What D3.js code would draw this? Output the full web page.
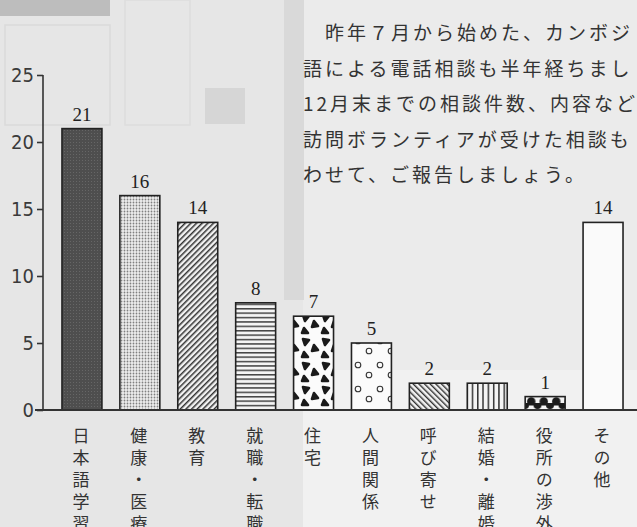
<!DOCTYPE html>
<html><head><meta charset="utf-8">
<script src="https://cdn.jsdelivr.net/npm/d3@7/dist/d3.min.js"></script>
<style>
html,body{margin:0;padding:0;background:#e8e8e8;}
svg{display:block;}
.vlab{writing-mode:vertical-rl;text-orientation:upright;}
</style></head>
<body>
<svg id="chart" width="637" height="527"></svg>
<script>
// ---- data ----
const categories = ["日本語学習","健康・医療","教育","就職・転職","住宅","人間関係","呼び寄せ","結婚・離婚","役所の渉外","その他"];
const values = [21,16,14,8,7,5,2,2,1,14];
const yTicks = [0,5,10,15,20,25];
const paragraph = [
  "昨年７月から始めた、カンボジ",
  "語による電話相談も半年経ちまし",
  "12月末までの相談件数、内容など",
  "訪問ボランティアが受けた相談も",
  "わせて、ご報告しましょう。"
];
const patternIds = ["p-dark","p-dots","p-diagup","p-horiz","p-blobs","p-circles","p-diagdown","p-vert","p-semi","p-none"];

const W = 637, H = 527;
const svg = d3.select("#chart");

// ---- background (scanned page look) ----
const bg = svg.append("g");
bg.append("rect").attr("x",0).attr("y",0).attr("width",W).attr("height",H).attr("fill","#e6e6e6");
bg.append("rect").attr("x",303).attr("y",0).attr("width",W-303).attr("height",370).attr("fill","#ebebeb");
bg.append("rect").attr("x",303).attr("y",370).attr("width",W-303).attr("height",H-370).attr("fill","#f1f1f1");
bg.append("rect").attr("x",284).attr("y",0).attr("width",20).attr("height",300).attr("fill","#d9d9d9");
bg.append("rect").attr("x",0).attr("y",0).attr("width",110).attr("height",16).attr("fill","#bdbdbd");
bg.append("rect").attr("x",205).attr("y",88).attr("width",40).attr("height",36).attr("fill","#d6d6d6");
bg.append("rect").attr("x",5).attr("y",25).attr("width",105).attr("height",100).attr("fill","none").attr("stroke","#dadada").attr("stroke-width",1.5);
bg.append("rect").attr("x",125).attr("y",0).attr("width",65).attr("height",125).attr("fill","none").attr("stroke","#dddddd").attr("stroke-width",1.5);

// ---- patterns ----
const defs = svg.append("defs");
function pat(id,w,h,transform){
  const p = defs.append("pattern").attr("id",id).attr("patternUnits","userSpaceOnUse")
    .attr("width",w).attr("height",h);
  if(transform) p.attr("patternTransform",transform);
  return p;
}
let p;
p = pat("p-dark",3,3);
p.append("rect").attr("width",3).attr("height",3).attr("fill","#4e4e4e");
p.append("rect").attr("x",1).attr("y",1).attr("width",1).attr("height",1).attr("fill","#666");
p = pat("p-dots",3,3);
p.append("rect").attr("width",3).attr("height",3).attr("fill","#eeeeee");
p.append("circle").attr("cx",1.5).attr("cy",1.5).attr("r",0.9).attr("fill","#808080");
p = pat("p-diagup",4,4,"rotate(45)");
p.append("rect").attr("width",4).attr("height",4).attr("fill","#f2f2f2");
p.append("rect").attr("x",0).attr("y",0).attr("width",1.5).attr("height",4).attr("fill","#333");
p = pat("p-horiz",4,4.4);
p.append("rect").attr("width",4).attr("height",4.4).attr("fill","#f4f4f4");
p.append("rect").attr("x",0).attr("y",0).attr("width",4).attr("height",1.5).attr("fill","#444");
p = pat("p-diagdown",4,4,"rotate(-45)");
p.append("rect").attr("width",4).attr("height",4).attr("fill","#f2f2f2");
p.append("rect").attr("x",0).attr("y",0).attr("width",1.4).attr("height",4).attr("fill","#333");
p = pat("p-vert",5.3,4);
p.append("rect").attr("width",5.3).attr("height",4).attr("fill","#f4f4f4");
p.append("rect").attr("x",0).attr("y",0).attr("width",1.5).attr("height",4).attr("fill","#333");
p = pat("p-blobs",20,24);
p.append("rect").attr("width",20).attr("height",24).attr("fill","#fbfbfb");
["M3,3 L9,4 L5,9 Z","M14,9 L18,14 L12,15 Z","M4,16 L8,21 L2,21 Z"].forEach(d=>{
  p.append("path").attr("d",d).attr("fill","#1a1a1a").attr("stroke","#1a1a1a")
   .attr("stroke-width",2.6).attr("stroke-linejoin","round");
});
p = pat("p-circles",22,24);
p.append("rect").attr("width",22).attr("height",24).attr("fill","#fbfbfb");
p.append("circle").attr("cx",6).attr("cy",5).attr("r",2.8).attr("fill","none").attr("stroke","#333").attr("stroke-width",1.1);
p.append("circle").attr("cx",17).attr("cy",15).attr("r",2.8).attr("fill","none").attr("stroke","#333").attr("stroke-width",1.1);
p = pat("p-semi",12.5,13);
p.append("rect").attr("width",12.5).attr("height",13).attr("fill","#f4f4f4");
p.append("circle").attr("cx",6.25).attr("cy",11.5).attr("r",4.2).attr("fill","#1a1a1a");
p.append("circle").attr("cx",0).attr("cy",2).attr("r",4).attr("fill","#1a1a1a");
p.append("circle").attr("cx",12.5).attr("cy",2).attr("r",4).attr("fill","#1a1a1a");
p.append("rect").attr("x",0).attr("y",0).attr("width",12.5).attr("height",2.5).attr("fill","#1a1a1a");
p = pat("p-none",4,4);
p.append("rect").attr("width",4).attr("height",4).attr("fill","#fafafa");

// ---- paragraph text ----
const para = svg.append("g").attr("font-family","'Noto Sans CJK JP', sans-serif")
  .attr("font-size",19).attr("fill","#333").attr("letter-spacing","3px");
para.selectAll("text").data(paragraph).join("text")
  .attr("x",(d,i)=> i===0 ? 325 : 303)
  .attr("y",(d,i)=> 40 + i*35.5)
  .text(d=>d);

// ---- scales ----
const x = d3.scaleBand().domain(categories).range([53,632]).paddingInner(0.31).paddingOuter(0.155);
const y = d3.scaleLinear().domain([0,25]).range([410,75]);

// ---- y axis ----
const yAxis = d3.axisLeft(y).tickValues(yTicks).tickSize(6).tickPadding(3).tickFormat(d3.format("d"));
const ya = svg.append("g").attr("transform","translate(43,0)").call(yAxis);
ya.select(".domain").attr("stroke","#333").attr("stroke-width",1.6).attr("d","M0,75V410");
ya.selectAll(".tick line").attr("stroke","#333").attr("stroke-width",1.6);
ya.selectAll(".tick text").attr("font-family","'Liberation Sans Narrow','DejaVu Sans Condensed',sans-serif")
  .attr("font-size",20).attr("fill","#3a3a3a");

// ---- bars ----
svg.append("g").selectAll("rect").data(values).join("rect")
  .attr("x",(d,i)=>x(categories[i]))
  .attr("y",d=>y(d))
  .attr("width",x.bandwidth())
  .attr("height",d=>y(0)-y(d))
  .attr("fill",(d,i)=>`url(#${patternIds[i]})`)
  .attr("stroke","#222").attr("stroke-width",1.6);

// value labels
svg.append("g").selectAll("text").data(values).join("text")
  .attr("x",(d,i)=>x(categories[i])+x.bandwidth()/2)
  .attr("y",d=>y(d)-8)
  .attr("text-anchor","middle")
  .attr("font-family","'Liberation Serif','DejaVu Serif',serif")
  .attr("font-size",19).attr("fill","#222")
  .text(d=>d);

// x baseline
svg.append("line").attr("x1",35).attr("x2",W).attr("y1",y(0)).attr("y2",y(0))
  .attr("stroke","#333").attr("stroke-width",1.8);

// category labels (vertical writing)
svg.append("g").attr("font-family","'Noto Sans CJK JP', sans-serif")
  .attr("font-size",17).attr("fill","#333")
  .selectAll("text").data(categories).join("text")
  .attr("class","vlab")
  .attr("x",c=>x(c)+x.bandwidth()/2-1)
  .attr("y",427)
  .attr("letter-spacing","5px")
  .text(c=>c);
</script>
</body></html>
